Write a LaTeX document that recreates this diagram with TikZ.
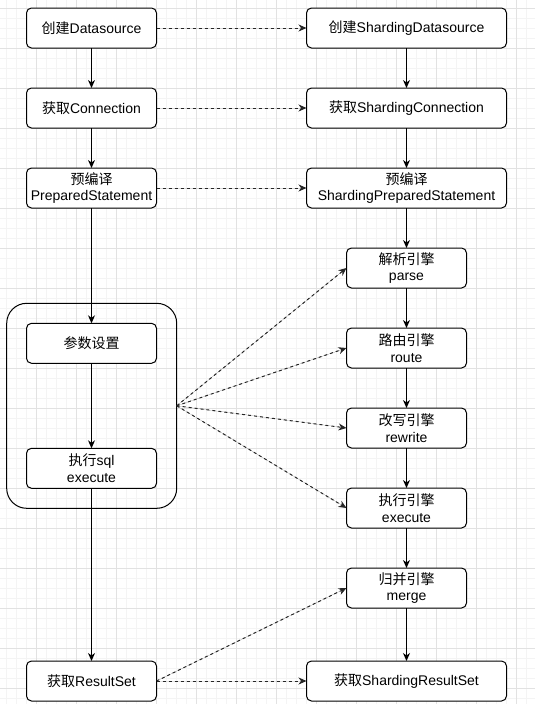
\documentclass[tikz,border=0pt]{standalone}
\usepackage{fontspec}
\setmainfont{Liberation Sans}
\newfontfamily\cjk{Noto Sans CJK SC}
\newcommand{\zhtext}[1]{{\cjk #1}}
\usetikzlibrary{arrows.meta}
\definecolor{gridmajor}{HTML}{E2E2E2}
\definecolor{gridminor}{HTML}{F4F4F4}
\tikzset{
  box/.style={draw,fill=white,rounded corners=5pt,line width=1pt,minimum height=40pt,
    align=center,inner sep=0pt,outer sep=0pt,font=\fontsize{14}{16.5}\selectfont},
  short/.style={box,minimum width=130pt},
  long/.style={box,minimum width=200pt},
  engine/.style={box,minimum width=120pt},
  flow/.style={-{Stealth[length=8pt,width=7pt,inset=2.5pt]},line width=1pt},
  link/.style={flow,dash pattern=on 3pt off 3pt,draw=black!85,fill=black!85}
}
\begin{document}
\begin{tikzpicture}[x=1pt,y=-1pt]
\useasboundingbox (0,0) rectangle (535,704);
\foreach \x in {6,16,...,535} \draw[gridminor] (\x,0) -- (\x,704);
\foreach \y in {8,18,...,704} \draw[gridminor] (0,\y) -- (535,\y);
\foreach \x in {36,76,...,535} \draw[gridmajor] (\x,0) -- (\x,704);
\foreach \y in {8,48,...,704} \draw[gridmajor] (0,\y) -- (535,\y);

\node[draw,line width=1pt,rounded corners=20pt,minimum width=170pt,minimum height=205pt,inner sep=0pt,outer sep=0pt] (group) at (91.7,405.8) {};

\node[short] (ds) at (91.5,28) {\zhtext{创建}Datasource};
\node[short] (conn) at (91.5,108) {\zhtext{获取}Connection};
\node[short] (ps) at (91.5,188) {\zhtext{预编译}\\PreparedStatement};
\node[short] (param) at (91.5,343.3) {\zhtext{参数设置}};
\node[short] (exec) at (91.5,468.3) {\zhtext{执行}sql\\execute};
\node[short] (rs) at (91.5,681) {\zhtext{获取}ResultSet};

\node[long] (sds) at (406.5,28) {\zhtext{创建}ShardingDatasource};
\node[long] (sconn) at (406.5,108) {\zhtext{获取}ShardingConnection};
\node[long] (sps) at (406.5,188) {\zhtext{预编译}\\ShardingPreparedStatement};
\node[engine] (parse) at (406.5,268) {\zhtext{解析引擎}\\parse};
\node[engine] (route) at (406.5,348) {\zhtext{路由引擎}\\route};
\node[engine] (rewrite) at (406.5,428) {\zhtext{改写引擎}\\rewrite};
\node[engine] (sexec) at (406.5,508) {\zhtext{执行引擎}\\execute};
\node[engine] (merge) at (406.5,588) {\zhtext{归并引擎}\\merge};
\node[long] (srs) at (406.5,681) {\zhtext{获取}ShardingResultSet};

\foreach \a/\b in {ds/conn,conn/ps,ps/param,param/exec,exec/rs,sds/sconn,sconn/sps,sps/parse,parse/route,route/rewrite,rewrite/sexec,sexec/merge,merge/srs}
  \draw[flow] (\a) -- (\b);

\foreach \a/\b in {ds/sds,conn/sconn,ps/sps,rs/srs,rs/merge}
  \draw[link] (\a.east) -- (\b.west);
\foreach \b in {parse,route,rewrite,sexec}
  \draw[link] (group.east) -- (\b.west);
\end{tikzpicture}
\end{document}
